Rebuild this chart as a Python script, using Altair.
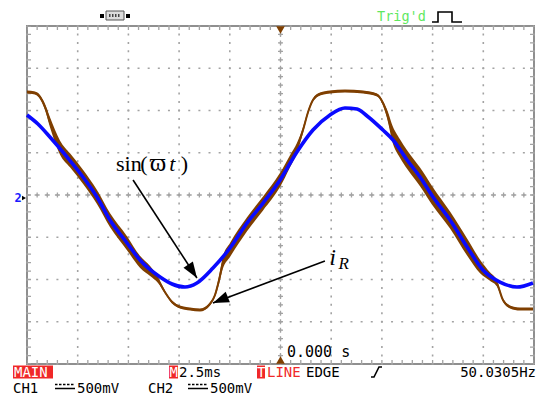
import altair as alt
import pandas as pd

# ---------------- data (time in ms: 2.5 ms/div, voltage in V: 0.5 V/div) ----------------
t_sin = [0.00, 0.54, 1.13, 1.97, 2.76, 3.45, 4.09, 4.93, 5.57, 6.56,
         7.15, 7.79, 8.38, 9.17, 10.01, 10.85, 11.64, 12.48, 13.31, 14.10,
         14.94, 15.68, 16.27, 16.77, 17.55, 18.05, 18.74, 19.38, 20.02, 20.86,
         21.70, 22.48, 23.32, 24.16, 24.95]
v_sin = [0.947, 0.840, 0.686, 0.450, 0.213, -0.024, -0.296, -0.568, -0.769, -0.970,
         -1.053, -1.089, -1.041, -0.864, -0.627, -0.331, -0.095, 0.178, 0.509, 0.769,
         0.947, 1.030, 1.018, 0.935, 0.769, 0.651, 0.414, 0.213, -0.024, -0.296,
         -0.615, -0.888, -1.030, -1.089, -1.041]

t_ir = [0.00, 0.39, 0.64, 0.89, 1.13, 1.63, 2.12, 2.76, 3.45, 4.09,
        4.93, 5.57, 6.07, 6.46, 6.80, 7.15, 7.54, 8.04, 8.53, 9.02,
        9.27, 9.47, 9.66, 10.01, 10.85, 11.64, 12.48, 12.97, 13.31, 13.61,
        13.86, 14.10, 14.45, 14.94, 15.68, 16.57, 17.26, 17.55, 17.80, 18.00,
        18.39, 18.74, 19.38, 20.02, 20.86, 21.70, 22.34, 22.83, 23.18, 23.47,
        23.82, 24.31, 24.95]
v_ir = [1.219, 1.207, 1.160, 1.041, 0.864, 0.560, 0.410, 0.215, -0.024, -0.296,
        -0.570, -0.790, -0.900, -1.006, -1.148, -1.266, -1.325, -1.349, -1.361, -1.290,
        -1.183, -1.006, -0.800, -0.650, -0.345, -0.100, 0.180, 0.400, 0.556, 0.769,
        0.982, 1.124, 1.195, 1.219, 1.231, 1.219, 1.183, 1.089, 0.923, 0.740,
        0.550, 0.420, 0.215, -0.020, -0.296, -0.615, -0.845, -0.965, -1.050, -1.243,
        -1.325, -1.349, -1.349]
# half-width of the noisy band around i_R
nz_ir = [0.018, 0.018, 0.024, 0.036, 0.059, 0.083, 0.083, 0.083, 0.083, 0.083,
         0.083, 0.071, 0.059, 0.036, 0.018, 0.018, 0.018, 0.018, 0.018, 0.018,
         0.024, 0.047, 0.071, 0.083, 0.083, 0.083, 0.083, 0.071, 0.059, 0.036,
         0.024, 0.018, 0.018, 0.018, 0.018, 0.018, 0.018, 0.024, 0.059, 0.095,
         0.110, 0.110, 0.110, 0.110, 0.100, 0.100, 0.080, 0.050, 0.036, 0.018,
         0.018, 0.018, 0.018]

grid_t = [0, 2.5, 5, 7.5, 10, 12.5, 15, 17.5, 20, 22.5, 25]
grid_v = [-2, -1.5, -1, -0.5, 0, 0.5, 1, 1.5, 2]

# annotation anchors (data units)
arrow_t = [5.23, 14.69]
arrow_v = [0.178, -0.781]
arrow_t2 = [8.38, 9.17]
arrow_v2 = [-0.982, -1.278]
arrow_angle = [146.9, 247.8]

sin_parts = ["sin", "(", "\u03d6", "t", ")"]
sin_part_t = [5.02, 5.76, 6.46, 7.17, 7.76]
sin_part_italic = [False, False, False, True, False]
sin_part_size = [22, 22, 25, 22, 22]
sin_v = 0.284

BROWN = "#7f3f00"
BLUE = "#0a0aff"
GRID = "#a3a3a3"
RED = "#f02828"
MONO = "DejaVu Sans Mono"
SERIF = "Liberation Serif"

W, H = 507, 338
xs = alt.Scale(domain=[0, 25], nice=False, zero=False)
ys = alt.Scale(domain=[-2, 2], nice=False, zero=False)
X = lambda f: alt.X(f, type="quantitative", scale=xs, axis=None)
Y = lambda f: alt.Y(f, type="quantitative", scale=ys, axis=None)

one = pd.DataFrame({"a": [0]})
layers = []

# ---- graticule ----
layers.append(alt.Chart(pd.DataFrame({"t": grid_t})).mark_rule(
    color=GRID, strokeWidth=1.6, strokeDash=[2, 6.45], strokeDashOffset=1).encode(x=X("t")))
layers.append(alt.Chart(pd.DataFrame({"v": grid_v})).mark_rule(
    color=GRID, strokeWidth=1.6, strokeDash=[2, 8.14], strokeDashOffset=1).encode(y=Y("v")))
# centre cross with small ticks
ct = pd.DataFrame({"t": [12.5]})
cv = pd.DataFrame({"v": [0]})
layers.append(alt.Chart(ct).mark_rule(color=GRID, strokeWidth=1.3, strokeDash=[5, 3.45],
                                      strokeDashOffset=2.5).encode(x=X("t")))
layers.append(alt.Chart(ct).mark_rule(color=GRID, strokeWidth=5, strokeDash=[1.3, 7.15],
                                      strokeDashOffset=0.65).encode(x=X("t")))
layers.append(alt.Chart(cv).mark_rule(color=GRID, strokeWidth=1.3, strokeDash=[5, 5.14],
                                      strokeDashOffset=2.5).encode(y=Y("v")))
layers.append(alt.Chart(cv).mark_rule(color=GRID, strokeWidth=5, strokeDash=[1.3, 8.84],
                                      strokeDashOffset=0.65).encode(y=Y("v")))
# border ticks
layers.append(alt.Chart(pd.DataFrame({"v": [2]})).mark_rule(
    color=GRID, strokeWidth=4, yOffset=2, strokeDash=[1.3, 8.84], strokeDashOffset=0.65).encode(y=Y("v")))
layers.append(alt.Chart(pd.DataFrame({"v": [-2]})).mark_rule(
    color=GRID, strokeWidth=4, yOffset=-2, strokeDash=[1.3, 8.84], strokeDashOffset=0.65).encode(y=Y("v")))
layers.append(alt.Chart(pd.DataFrame({"t": [0]})).mark_rule(
    color=GRID, strokeWidth=4, xOffset=2, strokeDash=[1.3, 7.15], strokeDashOffset=0.65).encode(x=X("t")))
layers.append(alt.Chart(pd.DataFrame({"t": [25]})).mark_rule(
    color=GRID, strokeWidth=4, xOffset=-2, strokeDash=[1.3, 7.15], strokeDashOffset=0.65).encode(x=X("t")))

# ---- traces ----
ir = pd.DataFrame({"t": t_ir, "v": v_ir,
                   "lo": [v - n for v, n in zip(v_ir, nz_ir)],
                   "hi": [v + n for v, n in zip(v_ir, nz_ir)]})
layers.append(alt.Chart(ir).mark_area(color=BROWN, interpolate="monotone").encode(
    x=X("t"), y=Y("lo"), y2="hi"))
layers.append(alt.Chart(ir).mark_line(color=BROWN, strokeWidth=2, interpolate="monotone").encode(
    x=X("t"), y=Y("v")))
sn = pd.DataFrame({"t": t_sin, "v": v_sin})
layers.append(alt.Chart(sn).mark_line(color=BLUE, strokeWidth=3.6, interpolate="monotone").encode(
    x=X("t"), y=Y("v")))

# ---- trigger markers ----
layers.append(alt.Chart(pd.DataFrame({"t": [12.5], "v": [2]})).mark_point(
    shape="triangle-down", filled=True, size=75, color=BROWN, opacity=1, yOffset=4).encode(x=X("t"), y=Y("v")))
layers.append(alt.Chart(pd.DataFrame({"t": [12.5], "v": [-2]})).mark_point(
    shape="triangle-up", filled=True, size=75, color=BROWN, opacity=1, yOffset=-4).encode(x=X("t"), y=Y("v")))

# ---- annotations ----
arr = pd.DataFrame({"t": arrow_t, "v": arrow_v, "t2": arrow_t2, "v2": arrow_v2, "ang": arrow_angle})
layers.append(alt.Chart(arr).mark_rule(color="black", strokeWidth=1.6).encode(
    x=X("t"), y=Y("v"), x2="t2", y2="v2"))
layers.append(alt.Chart(arr).mark_point(shape="M0,0L0.7,2L-0.7,2Z", filled=True, size=256,
                                        color="black", opacity=1).encode(
    x=X("t2"), y=Y("v2"), angle=alt.Angle("ang:Q", scale=None)))

for txt, tt, it, fs in zip(sin_parts, sin_part_t, sin_part_italic, sin_part_size):
    layers.append(alt.Chart(pd.DataFrame({"t": [tt], "v": [sin_v]})).mark_text(
        text=txt, font=SERIF, fontSize=fs, fontStyle="italic" if it else "normal",
        align="center", baseline="alphabetic", color="black").encode(x=X("t"), y=Y("v")))
layers.append(alt.Chart(pd.DataFrame({"t": [15.07], "v": [-0.828]})).mark_text(
    text="i", font=SERIF, fontSize=23, fontStyle="italic", align="center",
    baseline="alphabetic", color="black").encode(x=X("t"), y=Y("v")))
layers.append(alt.Chart(pd.DataFrame({"t": [15.62], "v": [-0.870]})).mark_text(
    text="R", font=SERIF, fontSize=17, fontStyle="italic", align="center",
    baseline="alphabetic", color="black").encode(x=X("t"), y=Y("v")))


# ---- oscilloscope screen text (pixel positions relative to the plot area) ----
def label(text, x, y, color="black", size=14, font=MONO, align="left", weight="normal"):
    return alt.Chart(one).mark_text(font=font, fontSize=size, align=align, baseline="alphabetic",
                                    color=color, fontWeight=weight).encode(
        x=alt.value(x), y=alt.value(y), text=alt.value(text))


def box(x, x2, y, y2, color=RED, stroke=None):
    kw = dict(color=color)
    if stroke:
        kw = dict(fill=color, stroke=stroke, strokeWidth=1)
    return alt.Chart(one).mark_rect(**kw).encode(
        x=alt.value(x), x2=alt.value(x2), y=alt.value(y), y2=alt.value(y2))


def poly(xs_, ys_, width=1.5, dash=None, color="black"):
    kw = dict(color=color, strokeWidth=width)
    if dash:
        kw["strokeDash"] = dash
    return alt.Chart(pd.DataFrame({"px": xs_, "py": ys_, "o": list(range(len(xs_)))})).mark_line(**kw).encode(
        x=alt.X("px:Q", scale=None, axis=None), y=alt.Y("py:Q", scale=None, axis=None), order="o:O")


# top: connector icon, Trig'd, pulse
layers.append(box(73, 77, -12, -8, color="black"))
layers.append(box(79, 97, -15, -6, color="#dcdcdc", stroke="#555555"))
layers.append(poly([82, 94], [-10.5, -10.5], width=3, dash=[1.5, 1.5], color="#444444"))
layers.append(box(99, 103, -12, -8, color="black"))
layers.append(label("Trig'd", 350, -5, color="#5fe85f", size=13.5))
layers.append(poly([405, 411, 411, 425, 425, 435], [-4, -4, -14, -14, -4, -4], width=1.6))

# left channel-2 marker
layers.append(label("2", -9, 176, color="#1a1aff", size=12, align="center", weight="bold"))
layers.append(alt.Chart(one).mark_point(shape="triangle-right", filled=True, size=22, color="black",
                                        opacity=1).encode(x=alt.value(-3), y=alt.value(172)))

# time offset
layers.append(label("0.000 s", 260, 331, size=15))

# bottom status line 1
L1 = 351
L2 = 366.5
layers.append(box(-14, 26, L1 - 11.5, L1 + 1.5))
layers.append(label("MAIN", -13, L1, color="white"))
layers.append(box(142, 151, L1 - 11.5, L1 + 1.5))
layers.append(label("M", 142.5, L1, color="white"))
layers.append(label("2.5ms", 152, L1))
layers.append(box(230, 238, L1 - 11.5, L1 + 1.5))
layers.append(label("T", 230, L1, color="white"))
layers.append(label("LINE", 240, L1, color=RED))
layers.append(label("EDGE", 279, L1))
layers.append(poly([344, 347, 352, 355], [L1, L1, L1 - 10, L1 - 10], width=1.6))
layers.append(label("50.0305Hz", 509, L1, align="right"))

# bottom status line 2
layers.append(label("CH1", -14, L2))
layers.append(poly([28, 48], [L2 - 8, L2 - 8], width=1.5, dash=[2.5, 1.5]))
layers.append(poly([28, 48], [L2 - 4, L2 - 4], width=1.5))
layers.append(label("500mV", 50, L2))
layers.append(label("CH2", 121, L2))
layers.append(poly([161, 181], [L2 - 8, L2 - 8], width=1.5, dash=[2.5, 1.5]))
layers.append(poly([161, 181], [L2 - 4, L2 - 4], width=1.5))
layers.append(label("500mV", 183, L2))

chart = alt.layer(*layers).properties(
    width=W, height=H,
    padding={"left": 19, "top": 18, "right": 3, "bottom": 32},
    autosize=alt.AutoSizeParams(type="none"),
    background="white",
).configure_view(stroke="#8f8f8f", strokeWidth=2)

chart.save("out.html", embed_options={"renderer": "svg", "actions": False})
